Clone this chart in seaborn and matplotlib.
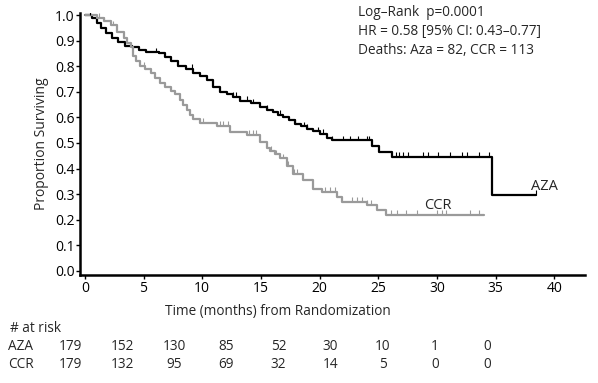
import numpy as np
import pandas as pd
import matplotlib
matplotlib.use('Agg')
import matplotlib.pyplot as plt
import seaborn as sns

# Kaplan-Meier step values
aza_time = [0, 0.6, 1.0, 1.4, 1.8, 2.3, 2.8, 3.4, 4.0, 4.6, 5.2, 6.3, 6.8, 7.3, 7.9, 8.6,
            9.2, 9.8, 10.4, 10.9, 11.5, 12.1, 12.6, 13.2, 14.2, 14.9, 15.5, 16.0, 16.5,
            16.9, 17.4, 17.9, 18.4, 18.9, 19.4, 20.0, 20.6, 21.1, 24.5, 25.1, 26.2, 34.7]
aza_surv = [1.0, 0.99, 0.97, 0.95, 0.93, 0.91, 0.895, 0.88, 0.875, 0.865, 0.855, 0.85,
            0.835, 0.82, 0.80, 0.79, 0.775, 0.76, 0.745, 0.72, 0.70, 0.69, 0.68, 0.665,
            0.655, 0.64, 0.63, 0.62, 0.61, 0.60, 0.59, 0.575, 0.565, 0.555, 0.545, 0.535,
            0.52, 0.51, 0.49, 0.465, 0.445, 0.297]
aza_end = 38.4
aza_censor = [0.4, 6.1, 9.1, 12.6, 12.9, 13.2, 13.8, 14.3, 15.5, 16.6, 17.9, 18.7, 18.9,
              19.9, 20.3, 21.1, 22.0, 22.6, 23.3, 24.0, 24.2, 26.5, 26.8, 27.1, 27.5,
              28.8, 29.2, 30.1, 31.1, 32.1, 32.6, 33.6, 34.4, 38.4]

ccr_time = [0, 1.0, 1.6, 2.2, 2.7, 3.3, 3.6, 3.9, 4.1, 4.4, 4.7, 5.1, 5.6, 6.0, 6.4, 6.8,
            7.3, 7.7, 8.1, 8.4, 8.7, 9.0, 9.2, 9.8, 11.3, 12.4, 13.8, 14.9, 15.5, 15.8,
            16.2, 16.6, 17.2, 17.7, 18.6, 19.4, 20.2, 21.5, 21.9, 24.0, 24.9, 25.7]
ccr_surv = [1.0, 0.99, 0.975, 0.96, 0.935, 0.91, 0.89, 0.875, 0.84, 0.82, 0.80, 0.79,
            0.775, 0.755, 0.735, 0.72, 0.705, 0.69, 0.668, 0.65, 0.63, 0.61, 0.595, 0.578,
            0.566, 0.543, 0.531, 0.504, 0.48, 0.47, 0.455, 0.44, 0.41, 0.38, 0.355, 0.32,
            0.31, 0.29, 0.27, 0.258, 0.238, 0.219]
ccr_end = 34.0
ccr_censor = [1.2, 1.6, 2.4, 5.0, 10.1, 11.5, 11.8, 12.2, 14.0, 14.3, 14.6, 15.9, 16.3,
              16.9, 17.3, 17.8, 18.1, 20.5, 20.9, 21.3, 22.8, 23.2, 23.6, 24.0, 24.4,
              26.1, 26.6, 27.4, 28.3, 30.0, 30.4, 30.8, 32.8, 33.6]

risk_times = [0, 5, 10, 15, 20, 25, 30, 35, 40]
aza_risk = [179, 152, 130, 85, 52, 30, 10, 1, 0]
ccr_risk = [179, 132, 95, 69, 32, 14, 5, 0, 0]

stats_lines = ["Log\u2013Rank  p=0.0001",
               "HR = 0.58 [95% CI: 0.43\u20130.77]",
               "Deaths: Aza = 82, CCR = 113"]

sns.set_style('ticks')
plt.rcParams['font.family'] = ['Open Sans', 'DejaVu Sans']
plt.rcParams['font.size'] = 9.5

fig = plt.figure(figsize=(5.98, 3.83), dpi=100)
ax = fig.add_axes([0.134, 0.282, 0.844, 0.684])


def km_frame(t, s, end, arm):
    return pd.DataFrame({'time': list(t) + [end], 'surv': list(s) + [s[-1]], 'arm': arm})


df = pd.concat([km_frame(aza_time, aza_surv, aza_end, 'AZA'),
                km_frame(ccr_time, ccr_surv, ccr_end, 'CCR')])
colors = {'AZA': 'black', 'CCR': '#9a9a9a'}

sns.lineplot(data=df, x='time', y='surv', hue='arm', palette=colors, estimator=None,
             drawstyle='steps-post', linewidth=1.6, legend=False, ax=ax)

# censor marks
for t, s, c, arm in [(aza_time, aza_surv, aza_censor, 'AZA'), (ccr_time, ccr_surv, ccr_censor, 'CCR')]:
    idx = np.searchsorted(t, c, side='right') - 1
    lvl = np.array(s)[idx]
    ax.vlines(c, lvl, lvl + 0.018, color=colors[arm], linewidth=0.8)

ax.text(38.0, 0.30, 'AZA', ha='left', va='bottom', fontsize=10.5)
ax.text(30.1, 0.226, 'CCR', ha='center', va='bottom', fontsize=10.5)

ax.set_xlim(-0.4, 42.6)
ax.set_ylim(-0.016, 1.008)
ax.set_xticks(risk_times)
ax.set_yticks(np.arange(0, 1.01, 0.1))
ax.set_yticklabels([f'{v:.1f}' for v in np.arange(0, 1.01, 0.1)])
ax.tick_params(axis='both', labelsize=10, length=3, width=1, pad=1, colors='black')
ax.set_xlabel('')
ax.set_ylabel('Proportion Surviving', fontsize=10, labelpad=4)
for side in ['left', 'bottom']:
    ax.spines[side].set_linewidth(1.8)
    ax.spines[side].set_color('black')
sns.despine(ax=ax)

fig.text(278 / 598, 1 - 311 / 383, 'Time (months) from Randomization', ha='center', va='center', fontsize=9.8)

for i, line in enumerate(stats_lines):
    fig.text(358 / 598, 1 - (13 + i * 18.5) / 383, line, ha='left', va='center', fontsize=9.8)

# number at risk table
xs = np.linspace(70, 487, len(risk_times)) / 598
fig.text(10 / 598, 1 - 329 / 383, '# at risk', ha='left', va='center', fontsize=9.8)
for row_y, name, counts in [(347, 'AZA', aza_risk), (365, 'CCR', ccr_risk)]:
    fig.text(8 / 598, 1 - row_y / 383, name, ha='left', va='center', fontsize=9.8)
    for x, n in zip(xs, counts):
        fig.text(x, 1 - row_y / 383, str(n), ha='center', va='center', fontsize=9.8)

fig.savefig('out.png', dpi=100)
